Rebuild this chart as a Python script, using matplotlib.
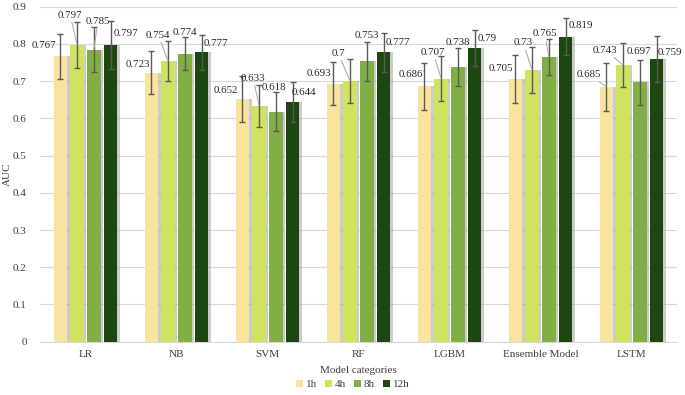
import numpy as np
import matplotlib
matplotlib.use('Agg')
import matplotlib.pyplot as plt
from matplotlib import rcParams

rcParams['font.family'] = 'serif'
rcParams['font.serif'] = ['Liberation Serif', 'DejaVu Serif']
rcParams['font.size'] = 8

models = ['LR', 'NB', 'SVM', 'RF', 'LGBM', 'Ensemble Model', 'LSTM']
horizons = ['1h', '4h', '8h', '12h']

auc_1h = [0.767, 0.723, 0.652, 0.693, 0.686, 0.705, 0.685]
auc_4h = [0.797, 0.754, 0.633, 0.700, 0.707, 0.730, 0.743]
auc_8h = [0.785, 0.774, 0.618, 0.753, 0.738, 0.765, 0.697]
auc_12h = [0.797, 0.777, 0.644, 0.777, 0.790, 0.819, 0.759]

err_1h = [0.061, 0.058, 0.063, 0.058, 0.063, 0.065, 0.064]
err_4h = [0.063, 0.054, 0.056, 0.060, 0.061, 0.062, 0.060]
err_8h = [0.061, 0.045, 0.052, 0.053, 0.050, 0.049, 0.060]
err_12h = [0.064, 0.047, 0.055, 0.053, 0.048, 0.050, 0.061]

yticks = [0, 0.1, 0.2, 0.3, 0.4, 0.5, 0.6, 0.7, 0.8, 0.9]

colors = ['#FAE39E', '#CFE35E', '#82AF45', '#1D4711']

# hand placed data labels (pixel offsets from bar top), like the excel original
label_offsets = [
    [(-17, 11), (-14, 8), (-17, 9), (-15, 10), (-14, 12), (-15, 11), (-18, 12)],
    [(-7, 30), (-10, 26), (-6, 28), (-12, 28), (-8, 26), (-9, 27), (-18, 15)],
    [(4, 28), (0, 21), (-2, 24), (0, 26), (0, 25), (-4, 23), (-1, 31)],
    [(15, 12), (14, 9), (11, 9), (14, 10), (13, 9), (15, 11), (13, 7)],
]
leaders = {(1, 0), (2, 0), (1, 1), (1, 2), (1, 3), (1, 4), (1, 5), (2, 5),
           (0, 6), (1, 6)}

values = [auc_1h, auc_4h, auc_8h, auc_12h]
errors = [err_1h, err_4h, err_8h, err_12h]

fig = plt.figure(figsize=(6.85, 3.95), dpi=100)
ax = fig.add_axes([40 / 685, 1 - 341.7 / 395, 637 / 685, 335 / 395])

x = np.arange(len(models))
pitch = 0.1835
width = 0.147
shadow_dx = 0.026

for i, (vals, errs) in enumerate(zip(values, errors)):
    pos = x + (i - 1.5) * pitch
    ax.bar(pos + shadow_dx, vals, width, color='#9a9a9a', alpha=0.5,
           zorder=2, linewidth=0)
    ax.bar(pos, vals, width, color=colors[i], label=horizons[i], zorder=3,
           linewidth=0)
    ax.errorbar(pos, vals, yerr=errs, fmt='none', ecolor='#595959',
                elinewidth=1.0, capsize=2.3, capthick=1.0, zorder=4)
    for j, (p, v) in enumerate(zip(pos, vals)):
        arrow = None
        if (i, j) in leaders:
            arrow = dict(arrowstyle='-', color='#A6A6A6', lw=0.7,
                         shrinkA=0, shrinkB=0)
        ax.annotate(f'{v:g}', xy=(p, v), xytext=label_offsets[i][j],
                    textcoords='offset pixels', ha='center', va='center',
                    fontsize=7.8, color='#262626', arrowprops=arrow, zorder=5)

ax.set_xlim(-0.5, len(models) - 0.5)
ax.set_ylim(0, 0.9)
ax.set_yticks(yticks)
ax.set_yticklabels([f'{t:g}' for t in yticks])
ax.set_xticks(x)
ax.set_xticklabels(models)
ax.tick_params(axis='x', length=0, labelsize=8, colors='#404040', pad=6)
ax.tick_params(axis='y', length=0, labelsize=8, colors='#404040', pad=9.5)
ax.yaxis.grid(True, color='#D9D9D9', lw=0.8, zorder=0)
ax.set_axisbelow(True)
for side in ['top', 'right', 'left']:
    ax.spines[side].set_visible(False)
ax.spines['bottom'].set_color('#D9D9D9')
ax.set_ylabel('AUC', fontsize=8, color='#404040')
ax.yaxis.set_label_coords(-0.044, 0.5)
ax.set_xlabel('Model categories', fontsize=8, color='#404040', labelpad=5)

fig.legend(loc='lower center', bbox_to_anchor=(0.515, -0.01), ncol=4,
           frameon=False, fontsize=8, handlelength=0.6, handleheight=0.6,
           handletextpad=0.3, columnspacing=0.7, labelcolor='#404040')

fig.savefig('out.png', dpi=100)
